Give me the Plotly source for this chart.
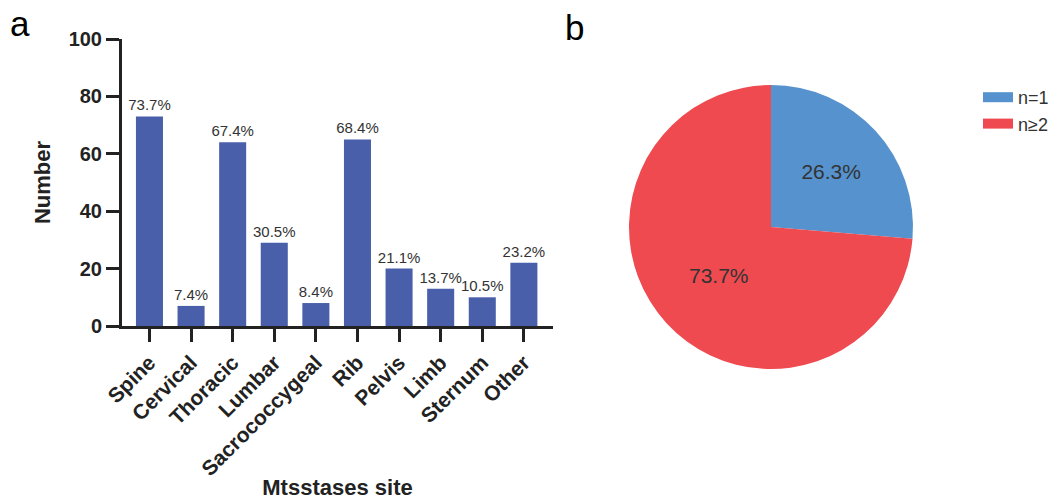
import plotly.graph_objects as go

# Panel a: metastasis counts per skeletal site
sites = ["Spine", "Cervical", "Thoracic", "Lumbar", "Sacrococcygeal",
         "Rib", "Pelvis", "Limb", "Sternum", "Other"]
counts = [73, 7, 64, 29, 8, 65, 20, 13, 10, 22]
pct_labels = ["73.7%", "7.4%", "67.4%", "30.5%", "8.4%",
              "68.4%", "21.1%", "13.7%", "10.5%", "23.2%"]

# Panel b: number of metastatic sites per patient
groups = ["n=1", "n\u22652"]
patients = [25, 70]

y_ticks = [0, 20, 40, 60, 80, 100]

BAR = "#4A5FAA"
PIE_COLORS = ["#5592CE", "#EE4A50"]
FONT = "Liberation Sans, Arial, sans-serif"
W, H = 1064, 500

fig = go.Figure()

fig.add_trace(go.Bar(
    x=sites, y=counts,
    text=pct_labels, textposition="outside", constraintext="none",
    textfont=dict(family=FONT, size=15, color="#333333"),
    marker=dict(color=BAR, line=dict(width=0)),
    cliponaxis=False, showlegend=False,
))

fig.add_trace(go.Pie(
    labels=groups, values=patients,
    sort=False, direction="clockwise", rotation=0,
    marker=dict(colors=PIE_COLORS, line=dict(width=0)),
    texttemplate="%{percent:.1%}", textposition="inside",
    insidetextfont=dict(family=FONT, size=21, color="#333333"),
    domain=dict(x=[(771 - 142) / W, (771 + 142) / W],
                y=[1 - (227 + 142) / H, 1 - (227 - 142) / H]),
    showlegend=False, hoverinfo="label+percent",
))

# legend entries for the pie, drawn as wide swatches
for name, col in zip(groups, PIE_COLORS):
    fig.add_trace(go.Scatter(
        x=[None], y=[None], mode="lines", name=name,
        line=dict(color=col, width=10), showlegend=True,
    ))

axis_line = dict(showline=True, linecolor="#222222", linewidth=3,
                 ticks="outside", ticklen=13, tickwidth=2.5,
                 tickcolor="#222222", showgrid=False, zeroline=False,
                 automargin=False)

fig.update_layout(
    width=W, height=H,
    margin=dict(l=0, r=0, t=0, b=0, autoexpand=False),
    paper_bgcolor="white", plot_bgcolor="white",
    font=dict(family=FONT, color="#222222"),
    bargap=0.35,
    xaxis=dict(
        domain=[122 / W, 553 / W], range=[-0.66, 9.7],
        tickangle=-45,
        tickfont=dict(family=FONT, size=21, color="#222222", weight="bold"),
        title=dict(text="<b>Mtsstases site</b>", standoff=12,
                   font=dict(family=FONT, size=22, color="#222222")),
        **axis_line,
    ),
    yaxis=dict(
        domain=[1 - 326 / H, 1 - 39 / H], range=[0, 100],
        tickvals=y_ticks,
        tickfont=dict(family=FONT, size=20, color="#222222", weight="bold"),
        title=dict(text="<b>Number</b>", standoff=12,
                   font=dict(family=FONT, size=22, color="#222222")),
        **axis_line,
    ),
    legend=dict(x=978 / W, y=1 - 79 / H, xanchor="left", yanchor="top",
                font=dict(family=FONT, size=18, color="#333333"),
                bgcolor="rgba(0,0,0,0)"),
    annotations=[
        dict(text="a", x=8 / W, y=1 - 2 / H, xref="paper", yref="paper",
             xanchor="left", yanchor="top", showarrow=False,
             font=dict(family=FONT, size=35, color="black")),
        dict(text="b", x=563 / W, y=1 - 6 / H, xref="paper", yref="paper",
             xanchor="left", yanchor="top", showarrow=False,
             font=dict(family=FONT, size=35, color="black")),
    ],
)

fig.write_html("out.html")
